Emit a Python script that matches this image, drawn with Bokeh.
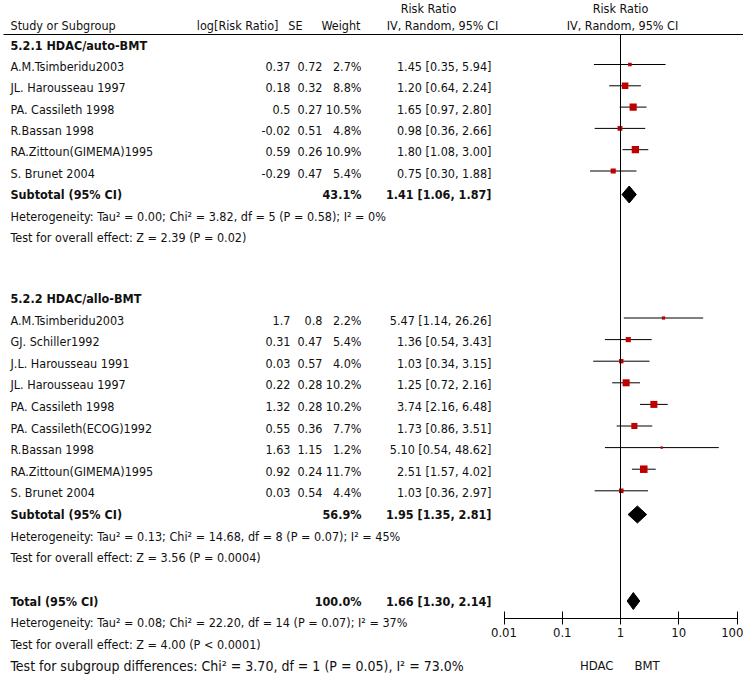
import math
from bokeh.plotting import figure
from bokeh.models import Range1d, LogScale, LogAxis, FixedTicker, CustomJSTickFormatter
from bokeh.core.properties import value
from bokeh.embed import file_html
from bokeh.resources import INLINE

# ---------------- data ----------------
headers_left = ["Study or Subgroup", "log[Risk Ratio]", "SE", "Weight"]
header_rr_1 = "Risk Ratio"
header_rr_2 = "IV, Random, 95% CI"

g1_title = "5.2.1 HDAC/auto-BMT"
g1_studies = ["A.M.Tsimberidu2003", "JL. Harousseau 1997", "PA. Cassileth 1998",
              "R.Bassan 1998", "RA.Zittoun(GIMEMA)1995", "S. Brunet 2004"]
g1_log_rr = [0.37, 0.18, 0.5, -0.02, 0.59, -0.29]
g1_se = [0.72, 0.32, 0.27, 0.51, 0.26, 0.47]
g1_weight = [2.7, 8.8, 10.5, 4.8, 10.9, 5.4]
g1_rr = [1.45, 1.20, 1.65, 0.98, 1.80, 0.75]
g1_lo = [0.35, 0.64, 0.97, 0.36, 1.08, 0.30]
g1_hi = [5.94, 2.24, 2.80, 2.66, 3.00, 1.88]
g1_sub_weight = 43.1
g1_sub_rr, g1_sub_lo, g1_sub_hi = 1.41, 1.06, 1.87
g1_het = "Heterogeneity: Tau\u00b2 = 0.00; Chi\u00b2 = 3.82, df = 5 (P = 0.58); I\u00b2 = 0%"
g1_test = "Test for overall effect: Z = 2.39 (P = 0.02)"

g2_title = "5.2.2 HDAC/allo-BMT"
g2_studies = ["A.M.Tsimberidu2003", "GJ. Schiller1992", "J.L. Harousseau 1991",
              "JL. Harousseau 1997", "PA. Cassileth 1998", "PA. Cassileth(ECOG)1992",
              "R.Bassan 1998", "RA.Zittoun(GIMEMA)1995", "S. Brunet 2004"]
g2_log_rr = [1.7, 0.31, 0.03, 0.22, 1.32, 0.55, 1.63, 0.92, 0.03]
g2_se = [0.8, 0.47, 0.57, 0.28, 0.28, 0.36, 1.15, 0.24, 0.54]
g2_weight = [2.2, 5.4, 4.0, 10.2, 10.2, 7.7, 1.2, 11.7, 4.4]
g2_rr = [5.47, 1.36, 1.03, 1.25, 3.74, 1.73, 5.10, 2.51, 1.03]
g2_lo = [1.14, 0.54, 0.34, 0.72, 2.16, 0.86, 0.54, 1.57, 0.36]
g2_hi = [26.26, 3.43, 3.15, 2.16, 6.48, 3.51, 48.62, 4.02, 2.97]
g2_sub_weight = 56.9
g2_sub_rr, g2_sub_lo, g2_sub_hi = 1.95, 1.35, 2.81
g2_het = "Heterogeneity: Tau\u00b2 = 0.13; Chi\u00b2 = 14.68, df = 8 (P = 0.07); I\u00b2 = 45%"
g2_test = "Test for overall effect: Z = 3.56 (P = 0.0004)"

total_weight = 100.0
total_rr, total_lo, total_hi = 1.66, 1.30, 2.14
total_het = "Heterogeneity: Tau\u00b2 = 0.08; Chi\u00b2 = 22.20, df = 14 (P = 0.07); I\u00b2 = 37%"
total_test = "Test for overall effect: Z = 4.00 (P < 0.0001)"
subgroup_test = "Test for subgroup differences: Chi\u00b2 = 3.70, df = 1 (P = 0.05), I\u00b2 = 73.0%"

axis_ticks = [0.01, 0.1, 1, 10, 100]
favours_left = "HDAC"
favours_right = "BMT"

# ---------------- layout ----------------
W, H = 743, 676
PX_ONE = 620.0        # x of RR = 1
PX_DEC = 58.25        # px per decade
FONT = "DejaVu Sans Condensed, Liberation Sans, sans-serif"
FS = "12.5px"
FS_LAST = "14px"
RED = "#C00000"
INK = "#111111"

X_NAME = 10
X_LOG = 290
X_SE = 322
X_W = 361
X_CI = 491

Y_H1, Y_H2, Y_RULE = 8, 25, 34
Y_AXIS = 618
y_g1_title = 45
y_g1 = [66 + 21.3 * i for i in range(len(g1_studies))]
y_g1_sub, y_g1_het, y_g1_test = 194, 215.5, 237
y_g2_title = 298
y_g2 = [319.5 + 21.6 * i for i in range(len(g2_studies))]
y_g2_sub, y_g2_het, y_g2_test = 514, 535.6, 557.2
y_tot, y_tot_het, y_tot_test, y_sg = 600.5, 622, 644, 665.5
MARK_DY = -2          # forest marks sit slightly above text centre
DIA_H = 8.5

rr_start = 10 ** ((0 - PX_ONE) / PX_DEC)
rr_end = 10 ** ((W - PX_ONE) / PX_DEC)

p = figure(width=W, height=H, x_range=Range1d(0, W), y_range=Range1d(H, 0),
           x_axis_type=None, y_axis_type=None, toolbar_location=None,
           output_backend="svg", min_border=0)
p.outline_line_color = None
p.background_fill_color = "white"
p.border_fill_color = "white"
p.grid.visible = False
p.extra_x_ranges = {"rr": Range1d(rr_start, rr_end)}
p.extra_x_scales = {"rr": LogScale()}

def txt(xs, ys, texts, align="left", bold=False, range_name="default", x_offset=0, size=FS):
    p.text(x=xs, y=ys, text=texts, text_align=align, text_baseline="middle",
           text_font=value(FONT), text_font_size=size,
           text_font_style="bold" if bold else "normal", text_color=INK,
           x_range_name=range_name, x_offset=x_offset)

def fmt_ci(r, l, h):
    return f"{r:.2f} [{l:.2f}, {h:.2f}]"

# headers
txt([X_NAME], [Y_H2], [headers_left[0]])
txt([278, 302, 360], [Y_H2] * 3, headers_left[1:], align="right")
txt([428], [Y_H1], [header_rr_1], align="center")
txt([442], [Y_H2], [header_rr_2], align="center")
txt([1], [Y_H1], [header_rr_1], align="center", range_name="rr")
txt([1], [Y_H2], [header_rr_2], align="center", range_name="rr", x_offset=2)
p.segment(x0=[3], y0=[Y_RULE], x1=[W], y1=[Y_RULE], line_color="black", line_width=1)

# group rows
for title, y_title, studies, ys, lrr, se, wt, rr, lo, hi, sw, sr, sl, sh, ysub, het, yhet, test, ytest in [
    (g1_title, y_g1_title, g1_studies, y_g1, g1_log_rr, g1_se, g1_weight, g1_rr, g1_lo, g1_hi,
     g1_sub_weight, g1_sub_rr, g1_sub_lo, g1_sub_hi, y_g1_sub, g1_het, y_g1_het, g1_test, y_g1_test),
    (g2_title, y_g2_title, g2_studies, y_g2, g2_log_rr, g2_se, g2_weight, g2_rr, g2_lo, g2_hi,
     g2_sub_weight, g2_sub_rr, g2_sub_lo, g2_sub_hi, y_g2_sub, g2_het, y_g2_het, g2_test, y_g2_test)]:
    txt([X_NAME], [y_title], [title], bold=True)
    txt([X_NAME] * len(studies), ys, studies)
    txt([X_LOG] * len(ys), ys, [str(v) for v in lrr], align="right")
    txt([X_SE] * len(ys), ys, [str(v) for v in se], align="right")
    txt([X_W] * len(ys), ys, [f"{v:.1f}%" for v in wt], align="right")
    txt([X_CI] * len(ys), ys, [fmt_ci(a, b, c) for a, b, c in zip(rr, lo, hi)], align="right")
    txt([X_NAME], [ysub], ["Subtotal (95% CI)"], bold=True)
    txt([X_W], [ysub], [f"{sw:.1f}%"], align="right", bold=True)
    txt([X_CI], [ysub], [fmt_ci(sr, sl, sh)], align="right", bold=True)
    txt([X_NAME], [yhet], [het])
    txt([X_NAME], [ytest], [test])
    # forest marks
    ym = [y + MARK_DY for y in ys]
    p.segment(x0=lo, y0=ym, x1=hi, y1=ym, line_color="black", line_width=1, x_range_name="rr")
    p.scatter(x=rr, y=ym, marker="square", size=[2.2 * math.sqrt(w) for w in wt],
              fill_color=RED, line_color=None, x_range_name="rr")
    p.patches(xs=[[sl, sr, sh, sr]], ys=[[ysub, ysub - DIA_H, ysub, ysub + DIA_H]],
              fill_color="black", line_color="black", x_range_name="rr")

# totals
txt([X_NAME], [y_tot], ["Total (95% CI)"], bold=True)
txt([X_W], [y_tot], [f"{total_weight:.1f}%"], align="right", bold=True)
txt([X_CI], [y_tot], [fmt_ci(total_rr, total_lo, total_hi)], align="right", bold=True)
txt([X_NAME], [y_tot_het], [total_het])
txt([X_NAME], [y_tot_test], [total_test])
txt([X_NAME], [y_sg], [subgroup_test], size=FS_LAST)
p.patches(xs=[[total_lo, total_rr, total_hi, total_rr]],
          ys=[[y_tot, y_tot - DIA_H, y_tot, y_tot + DIA_H]],
          fill_color="black", line_color="black", x_range_name="rr")

# line of no effect
p.segment(x0=[1], y0=[Y_RULE], x1=[1], y1=[Y_AXIS], line_color="black", line_width=1, x_range_name="rr")

# forest axis
ax = LogAxis(x_range_name="rr", fixed_location=Y_AXIS, bounds=(axis_ticks[0], axis_ticks[-1]),
             ticker=FixedTicker(ticks=axis_ticks, minor_ticks=[]),
             formatter=CustomJSTickFormatter(code="return String(tick)"))
ax.major_tick_in = 7
ax.major_tick_out = 6
ax.minor_tick_in = 0
ax.minor_tick_out = 0
ax.major_label_standoff = 3
ax.major_label_text_font = FONT
ax.major_label_text_font_size = "13px"
ax.major_label_text_color = INK
ax.axis_line_color = "black"
ax.major_tick_line_color = "black"
p.add_layout(ax, "below")

txt([1], [665], [favours_left], align="right", range_name="rr", x_offset=-7, size="13px")
txt([1], [665], [favours_right], align="left", range_name="rr", x_offset=14, size="13px")

open("out.html", "w").write(file_html(p, INLINE))
